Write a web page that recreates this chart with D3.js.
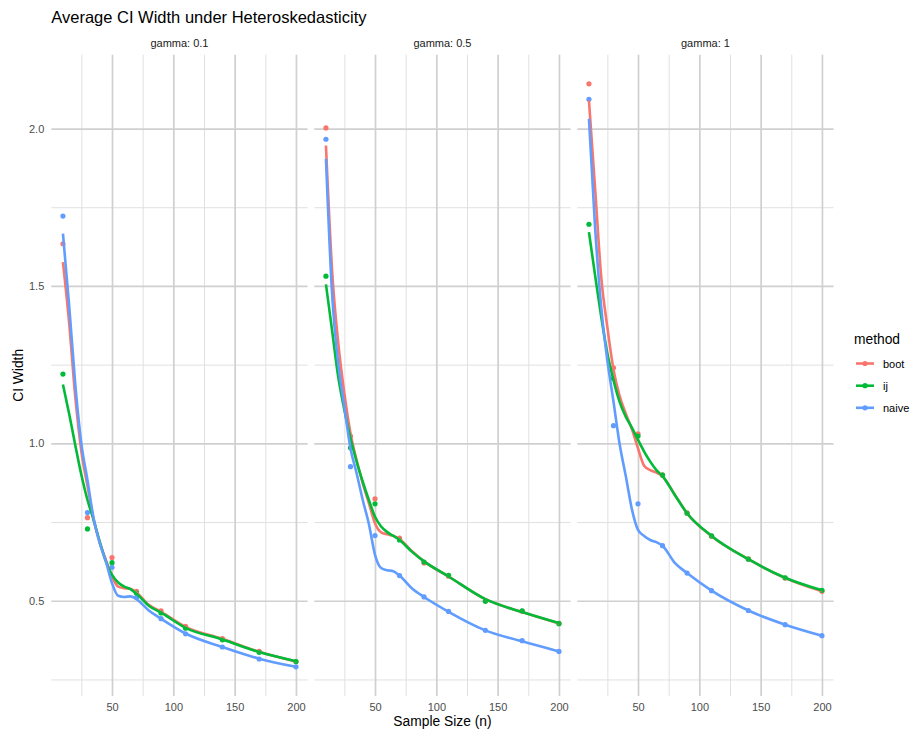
<!DOCTYPE html>
<html>
<head>
<meta charset="utf-8">
<script src="https://cdn.jsdelivr.net/npm/d3@7"></script>
<style>
  body { margin: 0; background: #fff; }
  svg text { font-family: "Liberation Sans", Arial, sans-serif; }
</style>
</head>
<body>
<div id="chart"></div>
<script>
// Facets, methods and sample sizes
const panels = ["gamma: 0.1", "gamma: 0.5", "gamma: 1"];
const methods = ["boot", "ij", "naive"];
const colors = ["#F8766D", "#00BA38", "#619CFF"];
const sampleSizes = [10, 30, 50, 70, 90, 110, 140, 170, 200];

// Observed average CI widths (one row per gamma)
const bootPoints = [
  [1.634, 0.764, 0.637, 0.530, 0.468, 0.419, 0.380, 0.339, 0.307],
  [2.002, 1.023, 0.824, 0.699, 0.620, 0.578, 0.500, 0.467, 0.428],
  [2.142, 1.240, 1.030, 0.900, 0.779, 0.705, 0.633, 0.572, 0.530]
];
const ijPoints = [
  [1.220, 0.728, 0.621, 0.524, 0.461, 0.413, 0.376, 0.336, 0.307],
  [1.531, 0.986, 0.808, 0.693, 0.623, 0.581, 0.498, 0.468, 0.427],
  [1.696, 1.206, 1.023, 0.899, 0.778, 0.706, 0.632, 0.573, 0.533]
];
const naivePoints = [
  [1.722, 0.780, 0.606, 0.510, 0.443, 0.395, 0.353, 0.315, 0.290],
  [1.966, 0.926, 0.707, 0.580, 0.512, 0.466, 0.406, 0.373, 0.339],
  [2.093, 1.056, 0.808, 0.675, 0.588, 0.532, 0.469, 0.424, 0.389]
];

// Smoothed curves at these sample sizes
const smoothN = [10, 15, 20, 25, 30, 35, 40, 45, 50, 55, 60, 65, 70, 80, 90, 110, 140, 170, 200];
const bootSmooth = [
  [1.576, 1.385, 1.150, 0.975, 0.865, 0.758, 0.685, 0.630, 0.577, 0.545, 0.540, 0.538, 0.526, 0.487, 0.465, 0.417, 0.379, 0.338, 0.307],
  [1.946, 1.550, 1.320, 1.159, 1.032, 0.947, 0.873, 0.810, 0.746, 0.717, 0.711, 0.706, 0.696, 0.658, 0.625, 0.577, 0.505, 0.464, 0.428],
  [2.089, 1.811, 1.529, 1.369, 1.235, 1.151, 1.095, 1.045, 0.984, 0.929, 0.915, 0.907, 0.895, 0.837, 0.778, 0.705, 0.632, 0.572, 0.530]
];
const ijSmooth = [
  [1.187, 1.095, 0.995, 0.900, 0.820, 0.757, 0.688, 0.625, 0.582, 0.558, 0.545, 0.537, 0.522, 0.484, 0.462, 0.414, 0.377, 0.337, 0.308],
  [1.505, 1.359, 1.211, 1.106, 1.016, 0.942, 0.878, 0.820, 0.767, 0.736, 0.718, 0.706, 0.693, 0.656, 0.625, 0.577, 0.505, 0.464, 0.429],
  [1.671, 1.534, 1.402, 1.286, 1.201, 1.132, 1.085, 1.050, 1.011, 0.974, 0.942, 0.915, 0.896, 0.836, 0.778, 0.706, 0.632, 0.573, 0.533]
];
const naiveSmooth = [
  [1.666, 1.441, 1.190, 1.000, 0.883, 0.762, 0.683, 0.625, 0.556, 0.516, 0.512, 0.514, 0.505, 0.469, 0.443, 0.396, 0.353, 0.316, 0.290],
  [1.904, 1.476, 1.254, 1.116, 0.984, 0.905, 0.820, 0.744, 0.646, 0.604, 0.597, 0.594, 0.580, 0.540, 0.512, 0.465, 0.406, 0.371, 0.339],
  [2.031, 1.686, 1.433, 1.264, 1.133, 0.998, 0.897, 0.791, 0.725, 0.706, 0.693, 0.686, 0.675, 0.620, 0.588, 0.532, 0.469, 0.424, 0.389]
];

// Axis ticks
const xTicks = [50, 100, 150, 200];
const xMinor = [25, 75, 125, 175];
const yTicks = [0.5, 1.0, 1.5, 2.0];
const yMinor = [0.25, 0.75, 1.25, 1.75];

const pointsBy = [bootPoints, ijPoints, naivePoints];
const smoothBy = [bootSmooth, ijSmooth, naiveSmooth];

// Layout
const width = 912, height = 736;
const plotLeft = 51.3, plotRight = 833.6, panelGap = 6.7;
const panelTop = 54.7, panelBottom = 696;
const panelW = (plotRight - plotLeft - 2 * panelGap) / 3;

const svg = d3.select("#chart").append("svg")
  .attr("width", width)
  .attr("height", height);

// Scales with ggplot-style 5% expansion
const xExt = d3.extent(sampleSizes);
const xPad = (xExt[1] - xExt[0]) * 0.05;
const allY = d3.merge([...pointsBy, ...smoothBy].map(a => d3.merge(a)));
const yExt = d3.extent(allY);
const yPad = (yExt[1] - yExt[0]) * 0.05;

const y = d3.scaleLinear()
  .domain([yExt[0] - yPad, yExt[1] + yPad])
  .range([panelBottom, panelTop]);

panels.forEach((label, p) => {
  const left = plotLeft + p * (panelW + panelGap);
  const x = d3.scaleLinear()
    .domain([xExt[0] - xPad, xExt[1] + xPad])
    .range([left, left + panelW]);

  const g = svg.append("g");

  // minor grid
  g.append("g")
    .attr("transform", `translate(0, ${panelBottom})`)
    .call(d3.axisBottom(x).tickValues(xMinor).tickSize(-(panelBottom - panelTop)).tickFormat(""))
    .call(a => a.select(".domain").remove())
    .selectAll("line").attr("stroke", "#e0e0e0").attr("stroke-width", 1);
  g.append("g")
    .attr("transform", `translate(${left}, 0)`)
    .call(d3.axisLeft(y).tickValues(yMinor).tickSize(-panelW).tickFormat(""))
    .call(a => a.select(".domain").remove())
    .selectAll("line").attr("stroke", "#e0e0e0").attr("stroke-width", 1);

  // major grid
  g.append("g")
    .attr("transform", `translate(0, ${panelBottom})`)
    .call(d3.axisBottom(x).tickValues(xTicks).tickSize(-(panelBottom - panelTop)).tickFormat(""))
    .call(a => a.select(".domain").remove())
    .selectAll("line").attr("stroke", "#d0d0d0").attr("stroke-width", 1.7);
  g.append("g")
    .attr("transform", `translate(${left}, 0)`)
    .call(d3.axisLeft(y).tickValues(yTicks).tickSize(-panelW).tickFormat(""))
    .call(a => a.select(".domain").remove())
    .selectAll("line").attr("stroke", "#d0d0d0").attr("stroke-width", 1.7);

  // x tick labels
  g.append("g")
    .attr("transform", `translate(0, ${panelBottom})`)
    .call(d3.axisBottom(x).tickValues(xTicks).tickSize(0).tickPadding(7))
    .call(a => a.select(".domain").remove())
    .selectAll("text")
    .style("font-size", "11px")
    .style("font-family", "Liberation Sans, Arial, sans-serif")
    .attr("fill", "#4d4d4d");

  // y tick labels on first panel only
  if (p === 0) {
    g.append("g")
      .attr("transform", `translate(${left}, 0)`)
      .call(d3.axisLeft(y).tickValues(yTicks).tickSize(0).tickPadding(7).tickFormat(d3.format(".1f")))
      .call(a => a.select(".domain").remove())
      .selectAll("text")
      .style("font-size", "11px")
      .style("font-family", "Liberation Sans, Arial, sans-serif")
      .attr("fill", "#4d4d4d");
  }

  // strip label
  g.append("text")
    .attr("x", left + panelW / 2)
    .attr("y", 47)
    .attr("text-anchor", "middle")
    .style("font-size", "11px")
    .attr("fill", "#1a1a1a")
    .text(label);

  // points
  methods.forEach((m, k) => {
    g.selectAll(".pt-" + m)
      .data(sampleSizes.map((n, i) => ({ n, v: pointsBy[k][p][i] })))
      .enter()
      .append("circle")
      .attr("cx", d => x(d.n))
      .attr("cy", d => y(d.v))
      .attr("r", 2.6)
      .attr("fill", colors[k]);
  });

  // smooth lines
  const line = d3.line()
    .x(d => x(d.n))
    .y(d => y(d.v))
    .curve(d3.curveMonotoneX);

  methods.forEach((m, k) => {
    g.append("path")
      .datum(smoothN.map((n, i) => ({ n, v: smoothBy[k][p][i] })))
      .attr("fill", "none")
      .attr("stroke", colors[k])
      .attr("stroke-width", 2.6)
      .attr("d", line);
  });
});

// Title and axis titles
svg.append("text")
  .attr("x", plotLeft)
  .attr("y", 22.5)
  .style("font-size", "16.5px")
  .attr("fill", "#000")
  .text("Average CI Width under Heteroskedasticity");

svg.append("text")
  .attr("x", (plotLeft + plotRight) / 2)
  .attr("y", 726)
  .attr("text-anchor", "middle")
  .style("font-size", "13.8px")
  .attr("fill", "#000")
  .text("Sample Size (n)");

svg.append("text")
  .attr("transform", `translate(23, ${(panelTop + panelBottom) / 2}) rotate(-90)`)
  .attr("text-anchor", "middle")
  .style("font-size", "13.8px")
  .attr("fill", "#000")
  .text("CI Width");

// Legend
const legend = svg.append("g").attr("transform", "translate(854, 0)");
legend.append("text")
  .attr("x", 0)
  .attr("y", 344)
  .style("font-size", "13.8px")
  .attr("fill", "#000")
  .text("method");

const keyY = [363.5, 385.7, 407.8];
methods.forEach((m, k) => {
  legend.append("line")
    .attr("x1", 2).attr("x2", 20)
    .attr("y1", keyY[k]).attr("y2", keyY[k])
    .attr("stroke", colors[k])
    .attr("stroke-width", 2.6);
  legend.append("circle")
    .attr("cx", 11).attr("cy", keyY[k])
    .attr("r", 2.6)
    .attr("fill", colors[k]);
  legend.append("text")
    .attr("x", 29)
    .attr("y", keyY[k] + 4)
    .style("font-size", "11px")
    .attr("fill", "#000")
    .text(m);
});
</script>
</body>
</html>
